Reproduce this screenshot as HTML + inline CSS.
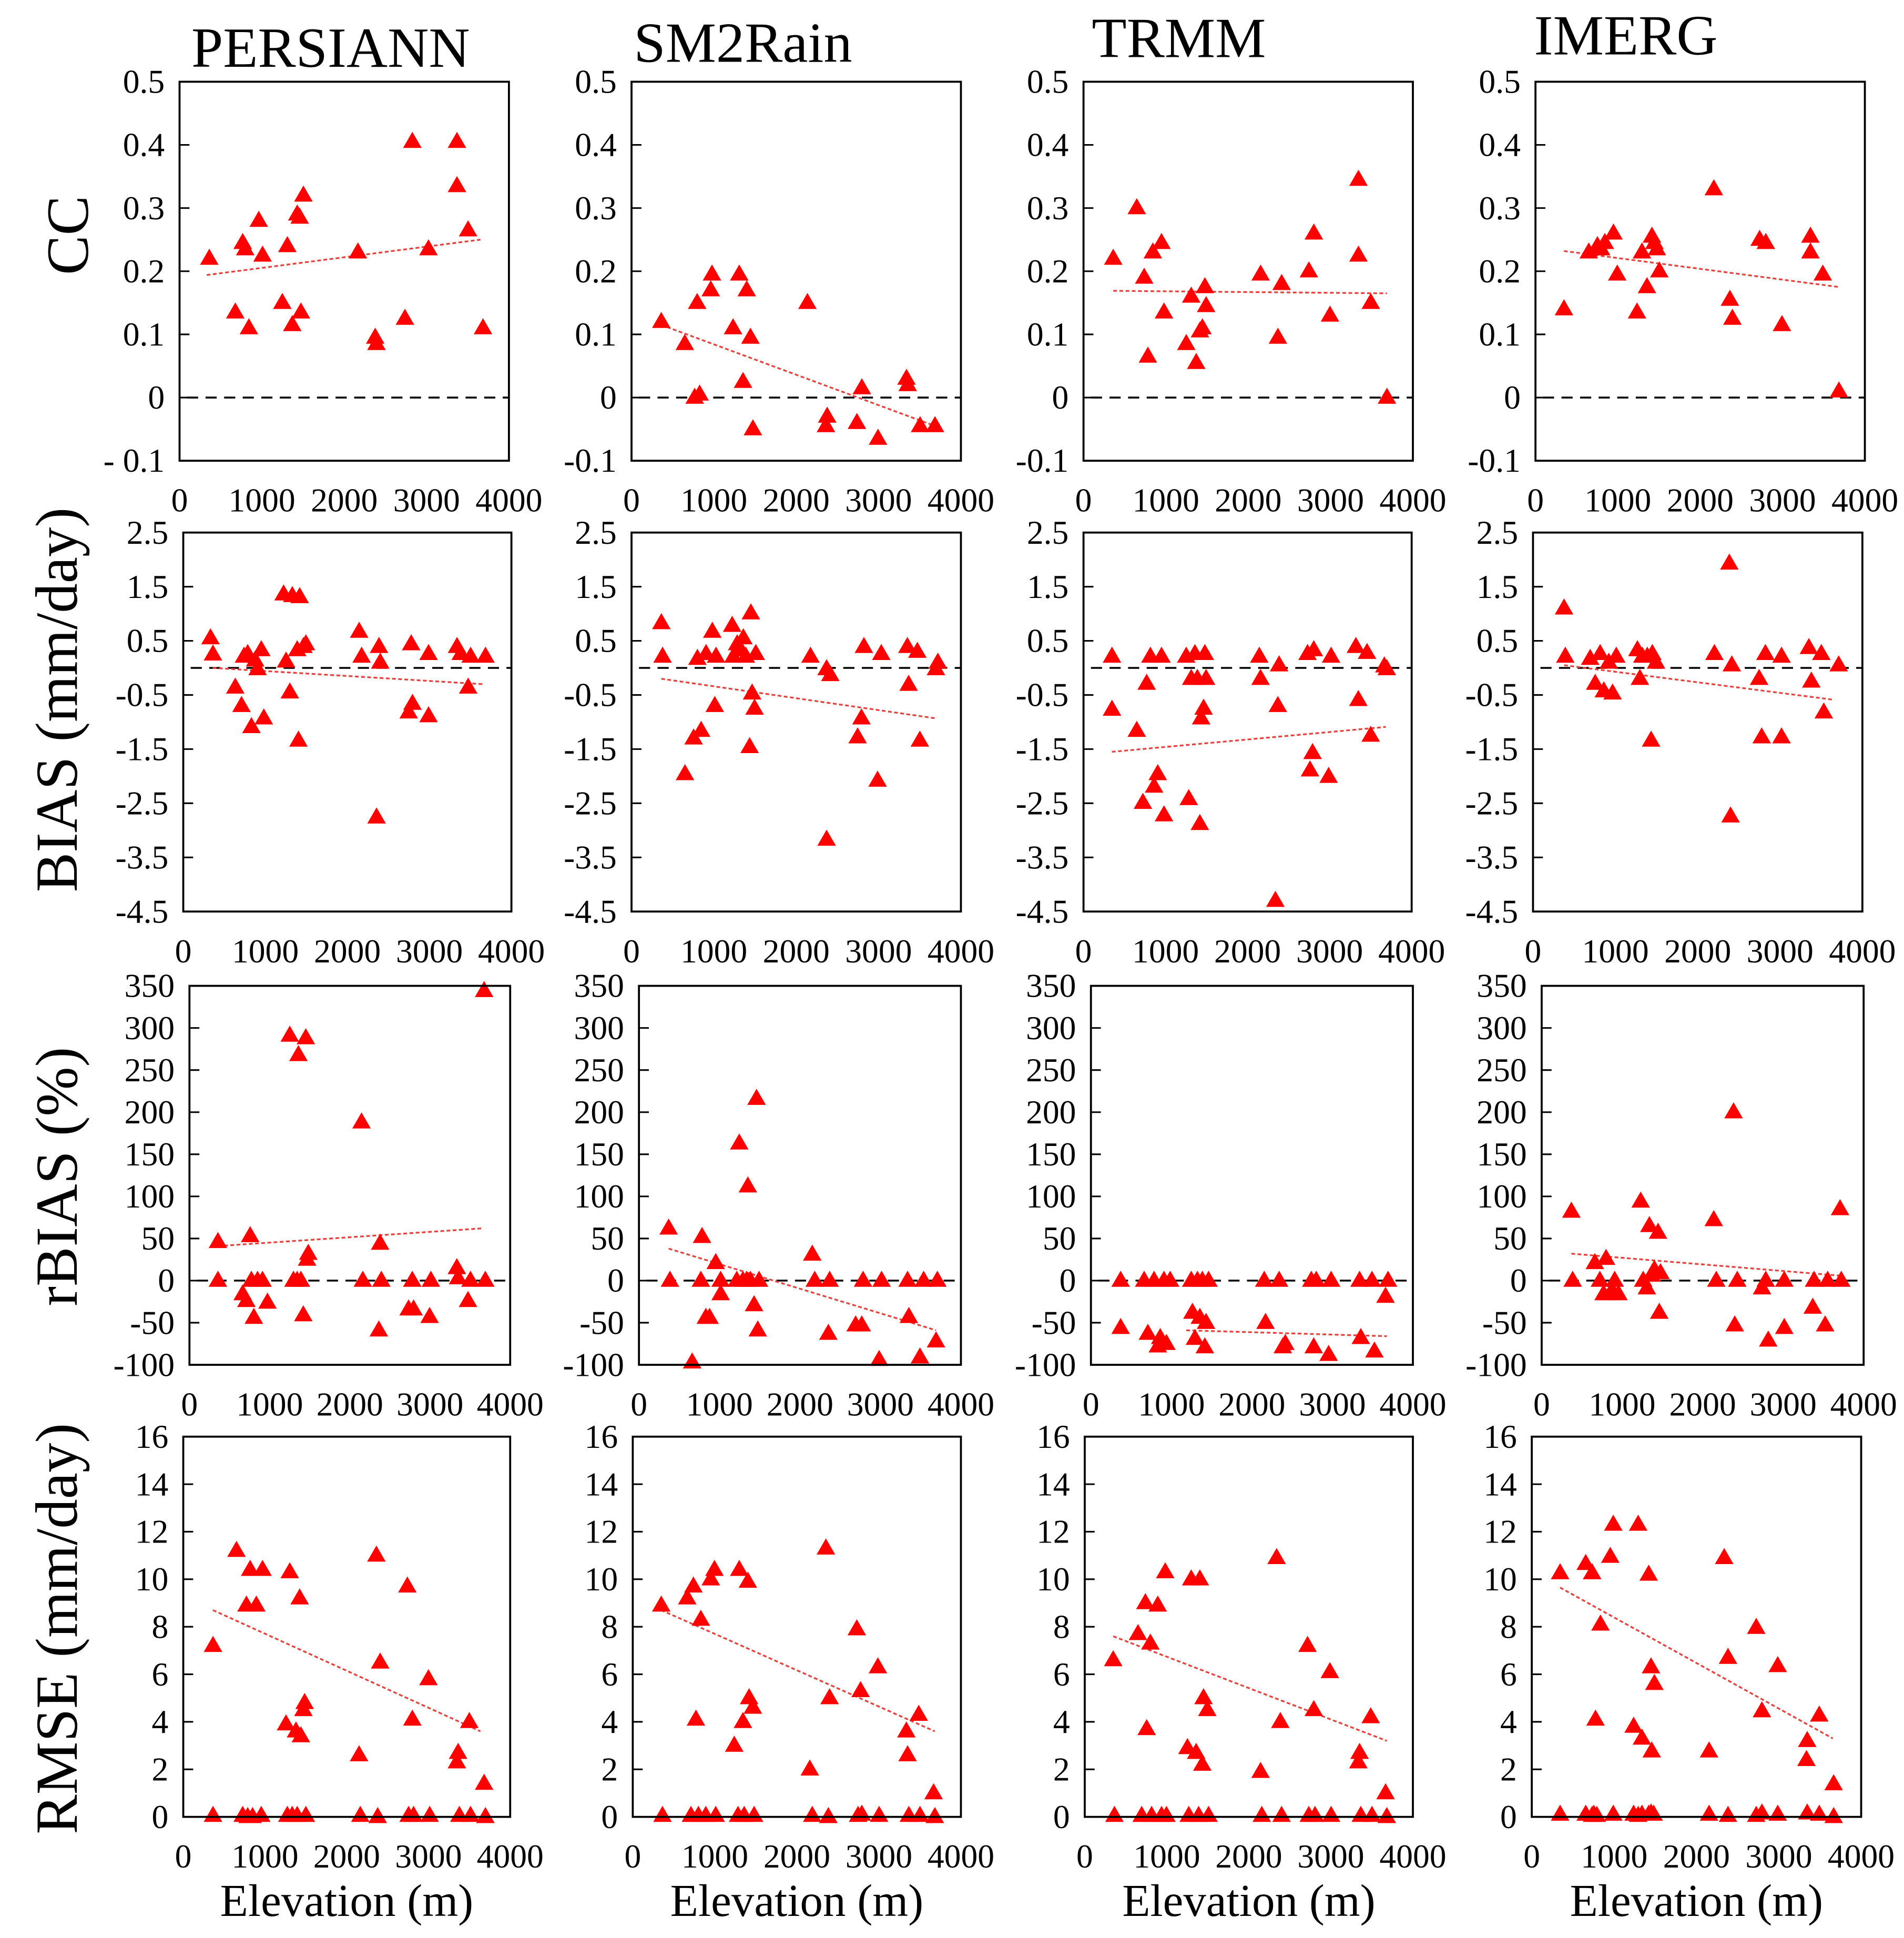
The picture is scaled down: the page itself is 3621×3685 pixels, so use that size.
<!DOCTYPE html>
<html><head><meta charset="utf-8"><style>
html,body{margin:0;padding:0;background:#fff;}
svg{display:block;font-family:"Liberation Serif","Times New Roman",serif;}
svg text{font-family:"Liberation Serif","Times New Roman",serif !important;fill:#000;}
</style></head><body>
<svg id="fig" xmlns="http://www.w3.org/2000/svg" width="3621" height="3685" viewBox="0 0 1537.6 1564.8" preserveAspectRatio="none" font-family="Liberation Serif, serif"></svg>
<script>
// ===== data (elevation m, metric values) =====
const cc_persiann_x=[361,677,767,797,842,962,1008,1248,1309,1369,1429,1459,1474,1504,2166,2376,2391,2737,2827,3023,3369,3369,3504,3685];
const cc_persiann_y=[.22,.135,.245,.235,.11,.28,.225,.15,.24,.115,.29,.285,.135,.32,.23,.095,.085,.125,.405,.235,.405,.335,.265,.11];
const cc_sm2rain_x=[361,647,767,797,827,962,977,1233,1308,1354,1399,1444,1474,2136,2361,2376,2737,2797,2993,3339,3354,3504,3685];
const cc_sm2rain_y=[.12,.085,0,.15,.005,.17,.195,.11,.195,.025,.17,.095,-.05,.15,-.045,-.03,-.04,.015,-.065,.03,.02,-.045,-.045];
const cc_trmm_x=[361,647,737,782,842,947,977,1248,1308,1369,1414,1444,1474,1489,2151,2361,2406,2737,2797,2993,3339,3339,3489,3685];
const cc_trmm_y=[.22,.3,.19,.065,.23,.245,.135,.085,.16,.055,.105,.11,.175,.145,.195,.095,.18,.2,.26,.13,.345,.225,.15,0];
const cc_imerg_x=[346,647,752,797,842,947,993,1233,1293,1354,1414,1444,1474,1504,2166,2361,2391,2722,2797,2993,3339,3339,3489,3685];
const cc_imerg_y=[.14,.23,.24,.235,.245,.26,.195,.135,.23,.175,.255,.245,.235,.2,.33,.155,.125,.25,.245,.115,.255,.23,.195,.01];

const bias_persiann_x=[332,362,634,710,740,785,831,876,906,951,982,1223,1253,1299,1329,1389,1419,1404,1465,1495,2144,2174,2356,2386,2401,2748,2778,2794,2990,2990,3337,3382,3473,3503,3684];
const bias_persiann_y=[.55,.25,-.36,-.7,.21,.26,-1.09,.14,-.02,.33,-.93,1.36,.12,-.45,1.33,.33,1.31,-1.34,.39,.44,.67,.21,-2.76,.39,.1,-.82,.44,-.66,-.89,.26,.39,.26,-.36,.21,.21];
const bias_sm2rain_x=[362,377,649,754,800,845,905,981,1011,1026,1222,1237,1283,1328,1358,1388,1434,1449,1464,1494,1509,2173,2369,2369,2414,2746,2792,2822,2988,3033,3350,3365,3471,3501,3697,3720];
const bias_sm2rain_y=[.83,.21,-1.96,-1.3,.17,-1.16,.26,.67,-.7,.21,.78,.21,.44,.33,.55,.21,-1.46,1.01,-.47,-.75,.26,.21,-3.17,-.02,-.13,-1.28,-.93,.39,-2.08,.26,.39,-.31,.3,-1.34,-.02,.1];
const bias_trmm_x=[347,347,649,724,770,815,860,905,951,981,1252,1283,1313,1358,1388,1418,1434,1464,1479,1494,2143,2158,2339,2369,2384,2731,2761,2792,2807,2988,3018,3320,3350,3456,3501,3667,3697];
const bias_trmm_y=[-.77,.21,-1.16,-2.49,-.29,.21,-2.19,-1.96,.21,-2.72,.21,-2.42,-.2,.26,-.2,-2.88,-.93,-.75,.26,-.2,.21,-.2,-4.3,-.7,.05,.26,-1.89,-1.57,.33,-2.01,.21,.39,-.59,.28,-1.25,.03,-.02];
const bias_imerg_x=[377,392,694,755,815,860,920,966,1011,1268,1298,1328,1388,1434,1449,1494,2203,2384,2399,2414,2746,2777,2822,3018,3018,3350,3380,3501,3531,3712];
const bias_imerg_y=[1.1,.21,.17,-.29,.26,-.43,.1,-.47,.21,.33,-.2,.21,.21,-1.34,.26,.1,.26,1.93,-2.74,.05,-.2,-1.28,.26,-1.28,.21,.37,-.25,.26,-.82,.05];

const rbias_persiann_x=[355,355,757,664,710,772,803,849,911,973,1251,1297,1343,1359,1390,1420,1451,1467,1482,2146,2162,2362,2378,2393,2733,2779,2795,2995,3011,3335,3350,3474,3505,3675,3690];
const rbias_persiann_y=[46,0,53,-16,-24,0,-44,0,0,-26,291,0,0,268,0,-41,288,25,32,188,0,-59,44,0,-34,0,-34,-43,0,15,3,-24,0,344,0];
const rbias_sm2rain_x=[369,385,661,769,784,831,877,954,1015,1015,1215,1246,1292,1338,1353,1384,1430,1461,1476,1492,2153,2184,2353,2369,2692,2768,2784,2984,3014,3337,3353,3491,3537,3691,3707];
const rbias_sm2rain_y=[62,0,-97,0,52,-44,-44,21,-16,0,0,163,0,0,112,0,-29,216,-59,0,31,0,-63,0,-53,-53,0,-94,0,0,-43,-91,0,-72,0];
const rbias_trmm_x=[369,369,661,707,784,831,861,907,938,984,1246,1261,1292,1323,1353,1384,1415,1430,1461,2153,2169,2338,2384,2415,2738,2768,2799,2953,2984,3337,3353,3491,3522,3660,3691];
const rbias_trmm_y=[0,-56,0,-63,0,-78,-68,0,-75,0,0,-38,-69,0,-44,0,-79,-50,0,0,-50,0,-79,-75,0,-79,0,-88,0,0,-68,0,-84,-19,0];
const rbias_imerg_x=[369,385,661,723,769,800,846,877,907,954,1230,1261,1307,1338,1369,1400,1446,1461,1476,2138,2169,2384,2399,2430,2738,2784,2815,3014,3014,3368,3384,3522,3553,3707,3722];
const rbias_imerg_y=[82,0,21,0,-16,26,-16,-12,0,-16,94,0,-9,65,6,13,57,-38,9,72,0,200,-53,0,-9,0,-71,-56,0,-32,0,-53,0,85,0];

const rmse_persiann_x=[364,364,651,727,773,788,818,848,894,954,970,1303,1273,1257,1333,1379,1394,1424,1439,1485,1470,1500,2151,2166,2363,2379,2409,2742,2757,2803,2818,3000,3015,3348,3363,3378,3500,3515,3681,3697];
const rmse_persiann_y=[7.2,.05,11.2,.05,8.9,0,10.4,0,8.9,.05,10.4,10.3,.05,3.9,.05,3.6,.05,9.2,3.4,4.8,4.5,.05,2.6,.05,11,0,6.5,9.7,.05,4.1,.05,5.8,.05,2.3,2.7,.05,4,.05,1.4,0];
const rmse_sm2rain_x=[347,362,664,709,739,770,800,830,890,951,996,1011,1237,1283,1298,1343,1358,1403,1418,1464,1479,2158,2188,2354,2399,2384,2731,2746,2777,2792,2988,3003,3335,3350,3365,3486,3501,3667,3682];
const rmse_sm2rain_y=[8.9,.05,9.2,.05,9.7,4.1,.05,8.3,.05,10,10.4,.05,3,.05,10.4,4,.05,9.9,5,4.6,.05,2,.05,11.3,5,0,7.9,.05,5.3,.1,6.3,.05,3.6,2.6,.05,4.3,.05,1,0];
const rmse_trmm_x=[347,362,649,694,739,755,800,815,890,936,981,996,1252,1268,1298,1358,1388,1403,1433,1448,1494,1509,2143,2158,2339,2384,2399,2716,2731,2792,2807,2988,3003,3335,3350,3365,3486,3501,3667,3682];
const rmse_trmm_y=[6.6,.05,7.7,.05,9,3.7,7.3,.05,8.9,.05,10.3,.05,2.9,.05,10,2.7,.05,10,2.2,5,4.5,.05,1.9,.05,10.9,4,.05,7.2,.05,4.5,.05,6.1,.05,2.3,2.7,.05,4.2,.05,1,0];
const rmse_imerg_x=[344,655,733,953,990,1292,1420,834,2337,2726,2383,2987,1448,1489,774,1237,1338,1457,2153,2795,3345,3336,3491,3666,344,655,733,753,790,990,1237,1292,1338,1420,1448,1480,2153,2383,2726,2795,2987,3345,3491,3666];
const rmse_imerg_y=[10.26,10.65,10.26,10.95,12.3,12.3,10.2,8.1,10.9,7.96,6.7,6.35,6.3,5.6,4.1,3.8,3.3,2.76,2.76,4.45,3.2,2.4,4.27,1.38,.1,.1,.05,.1,.05,.1,.1,.05,.1,.1,.15,.1,.1,.05,.05,.15,.1,.15,.1,0];

// trend lines: [elevStart, elevEnd] and [valueStart, valueEnd]
const trend_cc_persiann_x=[330,3654], trend_cc_persiann_y=[.194,.25];
const trend_cc_sm2rain_x=[361,3685], trend_cc_sm2rain_y=[.115,-.045];
const trend_cc_trmm_x=[361,3685], trend_cc_trmm_y=[.169,.165];
const trend_cc_imerg_x=[346,3685], trend_cc_imerg_y=[.232,.175];
const trend_bias_persiann_x=[360,3650], trend_bias_persiann_y=[0,-.3];
const trend_bias_sm2rain_x=[361,3685], trend_bias_sm2rain_y=[-.2,-.93];
const trend_bias_trmm_x=[346,3685], trend_bias_trmm_y=[-1.55,-1.09];
const trend_bias_imerg_x=[378,3660], trend_bias_imerg_y=[.05,-.59];
const trend_rbias_persiann_x=[356,3644], trend_rbias_persiann_y=[41,62];
const trend_rbias_sm2rain_x=[369,3691], trend_rbias_sm2rain_y=[38,-59];
const trend_rbias_trmm_x=[1184,3676], trend_rbias_trmm_y=[-59,-66];
const trend_rbias_imerg_x=[369,3691], trend_rbias_imerg_y=[32,6];
const trend_rmse_persiann_x=[363,3636], trend_rmse_persiann_y=[8.7,3.6];
const trend_rmse_sm2rain_x=[346,3681], trend_rmse_sm2rain_y=[8.7,3.6];
const trend_rmse_trmm_x=[347,3682], trend_rmse_trmm_y=[7.6,3.2];
const trend_rmse_imerg_x=[344,3656], trend_rmse_imerg_y=[9.65,3.3];

const products=["PERSIANN","SM2Rain","TRMM","IMERG"];
const metrics=["CC","BIAS (mm/day)","rBIAS (%)","RMSE (mm/day)"];
const xTickLabels=["0","1000","2000","3000","4000"];
const xTicks=[0,1000,2000,3000,4000];
const ccTicks=[0.5,0.4,0.3,0.2,0.1,0,-0.1];
const biasTicks=[2.5,1.5,0.5,-0.5,-1.5,-2.5,-3.5,-4.5];
const rbiasTicks=[350,300,250,200,150,100,50,0,-50,-100];
const rmseTicks=[16,14,12,10,8,6,4,2,0];

// ===== layout =====
const NS="http://www.w3.org/2000/svg";
const FONT='"Liberation Serif", "Times New Roman", serif';
const svg=document.getElementById('fig');
function mk(tag,attrs,parent){const e=document.createElementNS(NS,tag);for(const k in attrs)e.setAttribute(k,attrs[k]);if(tag==='text'){e.setAttribute('font-family',FONT);e.style.fontFamily=FONT;}(parent||svg).appendChild(e);return e;}

const rowsY=[[66,372],[430,736],[796,1102],[1160,1467]];
const colsX=[[[145,411],[510,776],[875,1141],[1240,1506]],
             [[148,413],[510,776],[875,1140],[1238,1504]],
             [[153,412],[516,776],[881,1141],[1245,1505]],
             [[148,412],[511,776],[876,1141],[1237,1503]]];
const ranges=[[-0.1,0.5],[-4.5,2.5],[-100,350],[0,16]];
const tickSets=[ccTicks,biasTicks,rbiasTicks,rmseTicks];
const keys=["cc","bias","rbias","rmse"];
const pkeys=["persiann","sm2rain","trmm","imerg"];
const D={cc_persiann:[cc_persiann_x,cc_persiann_y],cc_sm2rain:[cc_sm2rain_x,cc_sm2rain_y],cc_trmm:[cc_trmm_x,cc_trmm_y],cc_imerg:[cc_imerg_x,cc_imerg_y],
bias_persiann:[bias_persiann_x,bias_persiann_y],bias_sm2rain:[bias_sm2rain_x,bias_sm2rain_y],bias_trmm:[bias_trmm_x,bias_trmm_y],bias_imerg:[bias_imerg_x,bias_imerg_y],
rbias_persiann:[rbias_persiann_x,rbias_persiann_y],rbias_sm2rain:[rbias_sm2rain_x,rbias_sm2rain_y],rbias_trmm:[rbias_trmm_x,rbias_trmm_y],rbias_imerg:[rbias_imerg_x,rbias_imerg_y],
rmse_persiann:[rmse_persiann_x,rmse_persiann_y],rmse_sm2rain:[rmse_sm2rain_x,rmse_sm2rain_y],rmse_trmm:[rmse_trmm_x,rmse_trmm_y],rmse_imerg:[rmse_imerg_x,rmse_imerg_y]};
const T={cc_persiann:[trend_cc_persiann_x,trend_cc_persiann_y],cc_sm2rain:[trend_cc_sm2rain_x,trend_cc_sm2rain_y],cc_trmm:[trend_cc_trmm_x,trend_cc_trmm_y],cc_imerg:[trend_cc_imerg_x,trend_cc_imerg_y],
bias_persiann:[trend_bias_persiann_x,trend_bias_persiann_y],bias_sm2rain:[trend_bias_sm2rain_x,trend_bias_sm2rain_y],bias_trmm:[trend_bias_trmm_x,trend_bias_trmm_y],bias_imerg:[trend_bias_imerg_x,trend_bias_imerg_y],
rbias_persiann:[trend_rbias_persiann_x,trend_rbias_persiann_y],rbias_sm2rain:[trend_rbias_sm2rain_x,trend_rbias_sm2rain_y],rbias_trmm:[trend_rbias_trmm_x,trend_rbias_trmm_y],rbias_imerg:[trend_rbias_imerg_x,trend_rbias_imerg_y],
rmse_persiann:[trend_rmse_persiann_x,trend_rmse_persiann_y],rmse_sm2rain:[trend_rmse_sm2rain_x,trend_rmse_sm2rain_y],rmse_trmm:[trend_rmse_trmm_x,trend_rmse_trmm_y],rmse_imerg:[trend_rmse_imerg_x,trend_rmse_imerg_y]};

// column titles
const titleX=[267,600,952,1313];
const titleY=[54,50,46,44];
products.forEach((p,c)=>{
  const t=mk('text',{x:titleX[c],y:titleY[c],'text-anchor':'middle','font-size':46});
  
  
  t.textContent=p;
});
// row titles
const rowTitleCY=[190,565,950,1315];
metrics.forEach((m,r)=>{
  const t=mk('text',{x:0,y:0,'text-anchor':'middle','font-size':48,transform:`translate(${r==0?71:62},${rowTitleCY[r]}) rotate(-90)`});
  
  
  t.textContent=m;
});

for(let r=0;r<4;r++){
  const [y0,y1]=rowsY[r];const [vmin,vmax]=ranges[r];
  for(let c=0;c<4;c++){
    const [x0,x1]=colsX[r][c];
    const key=keys[r]+'_'+pkeys[c];
    const g=mk('g',{});
    
    
    const sx=v=>x0+(v/4000)*(x1-x0);
    const sy=v=>y1-(v-vmin)/(vmax-vmin)*(y1-y0);
    tickSets[r].forEach(v=>{
      const yy=sy(v);
      if(v!==vmin&&v!==vmax){
        const tk=mk('line',{x1:x0,x2:x0+8,y1:yy,y2:yy,stroke:'#000','stroke-width':1.3},g);
        
        
      }
      let lab=String(v);
      if(r==0&&v==-0.1&&c==0)lab='- 0.1';
      const t=mk('text',{x:x0-12,y:yy+9,'text-anchor':'end','font-size':27},g);
      
      
      t.textContent=lab;
    });
    xTicks.forEach((v,i)=>{
      const t=mk('text',{x:sx(v),y:y1+41,'text-anchor':'middle','font-size':27},g);
      
      
      t.textContent=xTickLabels[i];
    });
    if(vmin<0){
      const z=mk('line',{x1:x0+6,x2:x1,y1:sy(0),y2:sy(0),stroke:'#000','stroke-width':1.5,'stroke-dasharray':'9,6'},g);
      
      
    }
    const [tx,ty]=T[key];
    const tl=mk('line',{x1:sx(tx[0]),x2:sx(tx[1]),y1:sy(ty[0]),y2:sy(ty[1]),stroke:'#e8403a','stroke-width':1.4,'stroke-dasharray':'3,2'},g);
    
    
    const [xs,ys]=D[key];
    for(let i=0;i<xs.length;i++){
      const px=sx(xs[i]),py=sy(ys[i]);
      const tri=mk('polygon',{points:`${px-7.5},${py+5} ${px+7.5},${py+5} ${px},${py-8}`,fill:'#ff0000'},g);
      
      
    }
    const fr=mk('rect',{x:x0,y:y0,width:x1-x0,height:y1-y0,fill:'none',stroke:'#000','stroke-width':1.6},g);
    
    
    if(r==3){
      const xt=mk('text',{x:(x0+x1)/2,y:1547,'text-anchor':'middle','font-size':37},g);
      
      
      xt.textContent='Elevation (m)';
    }
  }
}
</script>
</body></html>
